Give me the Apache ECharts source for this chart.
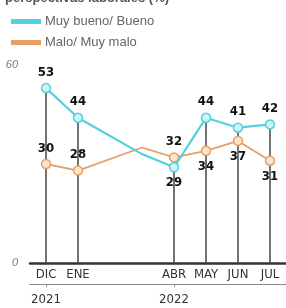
<!DOCTYPE html>
<html>
<head>
<meta charset="utf-8">
<script src="https://cdn.jsdelivr.net/npm/echarts@6/dist/echarts.min.js"></script>
<style>
  html, body { margin: 0; padding: 0; background: #fff; }
  #chart { width: 286px; height: 308px; }
</style>
</head>
<body>
<div id="chart"></div>
<script>
// month index from DIC 2021 (0) ... JUL 2022 (7)
const monthIdx = [0, 1, 3, 4, 5, 6, 7]
const bueno = [53, 44, 33, 29, 44, 41, 42]
const malo = [30, 28, 35, 32, 34, 37, 31]
const shown = [true, true, false, true, true, true, true]

const tickIdx = [0, 1, 4, 5, 6, 7]
const tickLabels = ['DIC', 'ENE', 'ABR', 'MAY', 'JUN', 'JUL']
const yearIdx = [0, 4]
const yearLabels = ['2021', '2022']

const blue = '#52d0de'
const orange = '#e6a066'
const narrow = "'Liberation Sans Narrow', 'DejaVu Sans Condensed', 'Liberation Sans', sans-serif"

// label placement (style only)
const buenoPos = ['top', 'top', 'top', 'bottom', 'top', 'top', 'top']
const maloPos = ['top', 'top', 'top', 'top', 'bottom', 'bottom', 'bottom']

function pts(vals, pos) {
  return vals.map(function (v, i) {
    return {
      value: [monthIdx[i], v],
      symbol: shown[i] ? 'circle' : 'none',
      label: { show: shown[i], position: pos[i] }
    }
  })
}

const drops = []
monthIdx.forEach(function (m, i) {
  if (shown[i]) drops.push([m, Math.max(bueno[i], malo[i])])
})

const labelStyle = {
  color: '#111',
  fontWeight: 'bold',
  fontSize: 13,
  fontFamily: narrow,
  distance: 4
}

let myChart = echarts.init(document.getElementById('chart'))
let option = {
  animation: false,
  title: {
    text: 'perspectivas laborales (%)',
    left: 0,
    top: -13,
    textStyle: { fontSize: 13, fontWeight: 'bold', color: '#555', fontFamily: 'Liberation Sans' }
  },
  legend: {
    orient: 'vertical',
    left: 6,
    top: 10,
    itemGap: 8,
    itemWidth: 28,
    itemHeight: 3,
    icon: 'rect',
    textStyle: { fontSize: 13, color: '#666', fontFamily: 'Liberation Sans' },
    data: [
      { name: 'Muy bueno/ Bueno', itemStyle: { color: blue } },
      { name: 'Malo/ Muy malo', itemStyle: { color: orange } }
    ]
  },
  grid: { left: 30, right: 0, top: 65, bottom: 45 },
  xAxis: [
    {
      type: 'value',
      min: -0.5,
      max: 7.5,
      splitLine: { show: false },
      axisLine: { show: true, onZero: false, lineStyle: { color: '#333', width: 2.5 } },
      axisTick: { show: false },
      axisLabel: {
        customValues: tickIdx,
        formatter: function (v) { return tickLabels[tickIdx.indexOf(v)] || '' },
        color: '#333',
        fontSize: 13,
        fontFamily: narrow,
        margin: 5
      }
    },
    {
      type: 'value',
      position: 'bottom',
      offset: 21,
      min: -0.5,
      max: 7.5,
      splitLine: { show: false },
      axisLine: { show: true, onZero: false, lineStyle: { color: '#888', width: 1 } },
      axisTick: { show: true, customValues: yearIdx, length: 3, lineStyle: { color: '#888' } },
      axisLabel: {
        customValues: yearIdx,
        formatter: function (v) { return yearLabels[yearIdx.indexOf(v)] || '' },
        color: '#333',
        fontSize: 13,
        fontFamily: narrow,
        margin: 9
      }
    }
  ],
  yAxis: {
    type: 'value',
    min: 0,
    max: 60,
    interval: 60,
    splitLine: { show: false },
    axisLine: { show: false },
    axisTick: { show: false },
    axisLabel: { color: '#777', fontSize: 11, fontStyle: 'italic', margin: 12, fontFamily: 'Liberation Sans' }
  },
  series: [
    {
      type: 'bar',
      data: drops,
      barWidth: 1.5,
      itemStyle: { color: '#444' },
      z: 1
    },
    {
      name: 'Muy bueno/ Bueno',
      type: 'line',
      data: pts(bueno, buenoPos),
      symbolSize: 9,
      lineStyle: { color: blue, width: 2.2 },
      itemStyle: { color: '#cdf3f7', borderColor: blue, borderWidth: 1.5 },
      label: labelStyle,
      z: 3
    },
    {
      name: 'Malo/ Muy malo',
      type: 'line',
      data: pts(malo, maloPos),
      symbolSize: 9,
      lineStyle: { color: orange, width: 1.8 },
      itemStyle: { color: '#fbe3cc', borderColor: orange, borderWidth: 1.5 },
      label: labelStyle,
      z: 2
    }
  ]
}
myChart.setOption(option)
window.addEventListener('resize', function () {
  myChart.resize()
})
</script>
</body>
</html>
